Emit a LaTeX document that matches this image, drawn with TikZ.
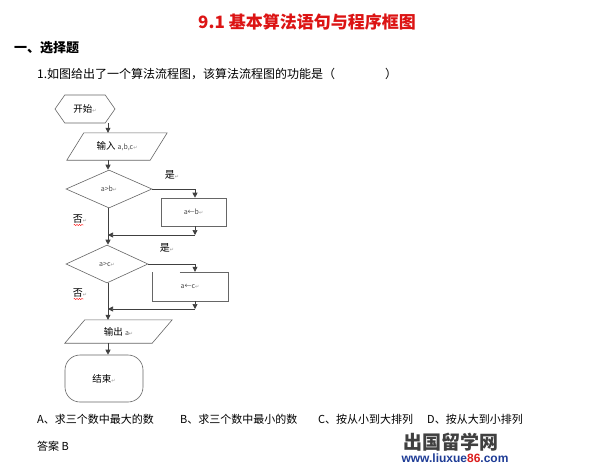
\documentclass[tikz,border=0pt]{standalone}
\usepackage{fontspec}
\setmainfont{Noto Sans CJK SC}
\newfontfamily\djv{DejaVu Sans}
\newfontfamily\lsans{Liberation Sans}
\usetikzlibrary{shapes.symbols,shapes.geometric,arrows.meta,decorations.pathmorphing}
\definecolor{titlered}{RGB}{220,20,20}
\definecolor{wmblue}{RGB}{30,60,150}
\definecolor{wmred}{RGB}{220,30,30}
\newcommand\rt{{\djv\fontsize{5}{5}\selectfont\textcolor{black!40}{↵}}}
\newcommand\smtxt[1]{{\fontsize{7}{7}\selectfont\color{black!70}#1}}
\tikzset{
  shp/.style={draw=black!60, line width=0.6pt, inner sep=0},
  ln/.style={draw=black!75, line width=0.7pt},
  arr/.style={ln, -{Triangle[length=5pt,width=5pt]}},
  lab/.style={font=\fontsize{10}{10}\selectfont, inner sep=0},
  fc/.style={font=\fontsize{9.5}{10}\selectfont, inner sep=0},
  sm/.style={font=\fontsize{7}{7}\selectfont, text=black!70},
  body/.style={font=\fontsize{12}{12}\selectfont, inner sep=0, anchor=west},
  opt/.style={font=\fontsize{11}{11}\selectfont, inner sep=0, anchor=west},
  wavy/.style={draw=red, line width=0.4pt, decorate, decoration={snake, amplitude=0.6pt, segment length=2.5pt}}
}
\begin{document}
\begin{tikzpicture}[x=1pt, y=-1pt]
\useasboundingbox[fill=white] (0,0) rectangle (599,466);

% headings
\node[font=\fontsize{17}{17}\selectfont\bfseries, text=titlered, inner sep=0, anchor=west] (title) at (198,22) {9.1 基本算法语句与程序框图};
\node[body, font=\fontsize{13}{13}\selectfont\bfseries] (sec) at (14,48) {一、选择题};
\node[body] (q) at (37,74) {1.如图给出了一个算法流程图，该算法流程图的功能是（\hspace{50pt}）};

% flowchart shapes
\coordinate (sp) at (108,0);
\coordinate (br) at (195,0);
\node[shp, signal, signal to=west and east, signal pointer angle=110, minimum width=60, minimum height=28] (st) at (85,109) {};
\node[fc] (stt) at (85,109) {开始\rt};

\node[inner sep=0, minimum width=83, minimum height=27] (in) at (117,146.5) {};
\draw[shp] ([xshift=8.5]in.north west) -- ([xshift=8.5]in.north east) -- ([xshift=-8.5]in.south east) -- ([xshift=-8.5]in.south west) -- cycle;
\node[fc] (int) at (117,146.5) {输入 \smtxt{a,b,c}\rt};

\node[shp, diamond, minimum width=86, minimum height=38] (d1) at (109,189) {};
\node[sm, inner sep=0] (d1t) at (109,189) {a>b\rt};

\node[shp, rectangle, minimum width=65, minimum height=28] (r1) at (193.5,212) {};
\node[sm, inner sep=0] (r1t) at (193.5,212) {a←b\rt};

\node[shp, diamond, minimum width=82, minimum height=38] (d2) at (107,264) {};
\node[sm, inner sep=0] (d2t) at (107,264) {a>c\rt};

\node[inner sep=0, minimum width=76, minimum height=29] (r2) at (190,286.5) {};
\draw[shp] ([xshift=28]r2.north west) -- (r2.north east) -- (r2.south east) -- (r2.south west) -- (r2.north west);
\node[sm, inner sep=0] (r2t) at (190,286.5) {a←c\rt};

\node[inner sep=0, minimum width=87, minimum height=23] (out) at (118.5,331.5) {};
\draw[shp] ([xshift=10]out.north west) -- ([xshift=10]out.north east) -- ([xshift=-10]out.south east) -- ([xshift=-10]out.south west) -- cycle;
\node[fc] (outt) at (118.5,331.5) {输出 \smtxt{a}\rt};

\node[shp, rectangle, rounded corners=15, minimum width=78, minimum height=47] (en) at (104,378.5) {};
\node[fc] (ent) at (104,378.5) {结束\rt};

% connectors
\coordinate (m1) at (195,235);
\coordinate (m2) at (195,309);
\draw[arr] (st.south -| sp) -- (in.north -| sp);
\draw[arr] (in.south -| sp) -- (d1.north -| sp);
\draw[arr] (d1.east) -| (r1.north -| br);
\draw[arr] (r1.south -| br) -- (m1);
\draw[arr] (m1) -- (m1 -| sp);
\draw[arr] (d1.south -| sp) -- (d2.north -| sp);
\draw[arr] (d2.east) -| (r2.north -| br);
\draw[arr] (r2.south -| br) -- (m2);
\draw[arr] (m2) -- (m2 -| sp);
\draw[arr] (d2.south -| sp) -- (out.north -| sp);
\draw[arr] (out.south -| sp) -- (en.north -| sp);

% branch labels
\node[lab] (y1) at (172,175) {是\rt};
\node[lab] (n1) at (80,219) {否\rt};
\draw[wavy] ([xshift=1pt,yshift=-1.5pt]n1.south west) -- ++(10,0);
\node[lab] (y2) at (167,248) {是\rt};
\node[lab] (n2) at (80,293) {否\rt};
\draw[wavy] ([xshift=1pt,yshift=-1.5pt]n2.south west) -- ++(10,0);

% options
\node[opt] (oa) at (37,419) {A、求三个数中最大的数};
\node[opt] (ob) at (180,419) {B、求三个数中最小的数};
\node[opt] (oc) at (318,419) {C、按从小到大排列};
\node[opt] (od) at (427,419) {D、按从大到小排列};
\node[opt] (ans) at (37,446) {答案 B};

% watermark
\node[font=\fontsize{19}{19}\selectfont\bfseries, text=black!75, inner sep=0] (wm1) at (451,442) {出国留学网};
\node[font=\lsans\fontsize{12}{12}\selectfont\bfseries, text=wmblue, inner sep=0] (wm2) at (455,458) {www.liuxue\textcolor{wmred}{86}.com};
\end{tikzpicture}
\end{document}
